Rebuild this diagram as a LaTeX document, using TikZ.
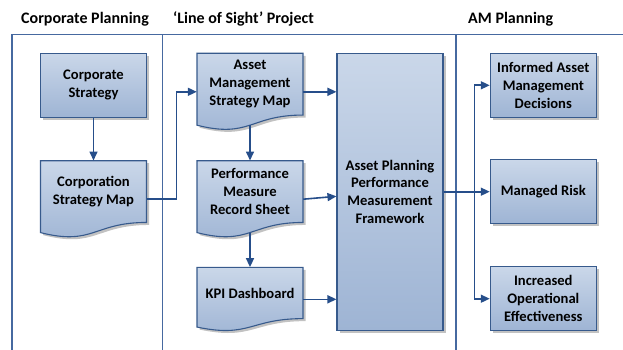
\documentclass[tikz,border=0pt]{standalone}
\usepackage{fontspec}
\setmainfont{Carlito}
\usetikzlibrary{arrows.meta,shadows,calc}
\definecolor{bordc}{RGB}{55,90,140}
\definecolor{topc}{RGB}{202,215,233}
\definecolor{botc}{RGB}{158,180,212}
\definecolor{linec}{RGB}{38,78,138}
\definecolor{framec}{RGB}{70,105,160}
\tikzset{
 shad/.style={drop shadow={shadow xshift=2.5pt,shadow yshift=-2.5pt,opacity=0.4,fill=black!60}},
 boxfill/.style={top color=topc,bottom color=botc,draw=bordc,line width=1.1pt},
 fbox/.style={boxfill,shad,rectangle,minimum width=106pt,minimum height=64pt,align=center,font=\bfseries\fontsize{14.6}{17.8}\selectfont,inner sep=0pt},
 conn/.style={draw=linec,line width=1.6pt,-{Triangle[length=9pt,width=8pt]}},
 plainline/.style={draw=linec,line width=1.6pt},
 frame/.style={draw=framec,line width=1.3pt},
 hdr/.style={anchor=base west,font=\bfseries\fontsize{16}{19}\selectfont,inner sep=0pt},
 txt/.style={align=center,font=\bfseries\fontsize{14.6}{17.8}\selectfont,inner sep=0pt},
 ghost/.style={rectangle,draw=none,inner sep=0pt,minimum width=106pt},
}
\newcommand{\docnode}[6]{%
 \path[boxfill,shad] (#2,#3) -- ({#2+#4},#3) -- ({#2+#4},{#3+0.802*#5}) .. controls ({#2+0.5*#4},{#3+0.802*#5}) and ({#2+0.5*#4},{#3+1.108*#5}) .. (#2,{#3+0.934*#5}) -- cycle;
 \node[ghost,minimum height=#5pt] (#1) at ({#2+0.5*#4},{#3+0.5*#5}) {};
 \node[txt] (#1-t) at ({#2+0.5*#4},{#3+0.401*#5}) {#6};
 \coordinate (#1-b) at ({#2+0.5*#4},{#3+0.933*#5});
}
\begin{document}
\begin{tikzpicture}[x=1pt,y=-1pt]
\useasboundingbox (0,0) rectangle (623,350);
% frame
\draw[frame] (12,350) -- (12,34.7) -- (623,34.7);
\draw[frame] (162.7,34.7) -- (162.7,350);
\draw[frame] (456,34.7) -- (456,350);
% headers
\node[hdr] (h1) at (21,23.5) {Corporate Planning};
\node[hdr] (h2) at (173,23.5) {‘Line of Sight’ Project};
\node[hdr] (h3) at (468,23.5) {AM Planning};
% shapes
\node[fbox] (cs) at (93.5,85.3) {Corporate\\Strategy};
\docnode{csm}{40.5}{160.7}{106}{77}{Corporation\\Strategy Map}
\docnode{amsm}{197}{53.3}{106}{77}{Asset\\Management\\Strategy Map}
\docnode{pmrs}{197}{160.7}{106}{77}{Performance\\Measure\\Record Sheet}
\docnode{kpi}{197}{267.3}{106}{64}{KPI Dashboard}
\node[fbox,minimum height=276.7pt] (appmf) at (390,191.7) {Asset Planning\\Performance\\Measurement\\Framework};
\node[fbox] (iamd) at (543.3,85.3) {Informed Asset\\Management\\Decisions};
\node[fbox] (mr) at (543.3,191.7) {Managed Risk};
\node[fbox] (ioe) at (543.3,298.7) {Increased\\Operational\\Effectiveness};
% connectors
\draw[conn] (cs.south) -- (csm.north);
\draw[conn] (csm.east) -- ++(29.7,0) |- (amsm.west);
\draw[conn] (amsm.east) -- (amsm.east -| appmf.west);
\draw[conn] (amsm-b) -- (pmrs.north);
\draw[conn] (pmrs.east) -- (appmf);
\draw[conn] (pmrs-b) -- (kpi.north);
\draw[conn] (kpi.east) -- (kpi.east -| appmf.west);
\coordinate (trunk) at (474.3,191.7);
\draw[plainline] (appmf.east) -- (trunk);
\draw[conn] (trunk) -- (mr.west);
\draw[conn] (trunk) |- (iamd.west);
\draw[conn] (trunk) |- (ioe.west);
\end{tikzpicture}
\end{document}
